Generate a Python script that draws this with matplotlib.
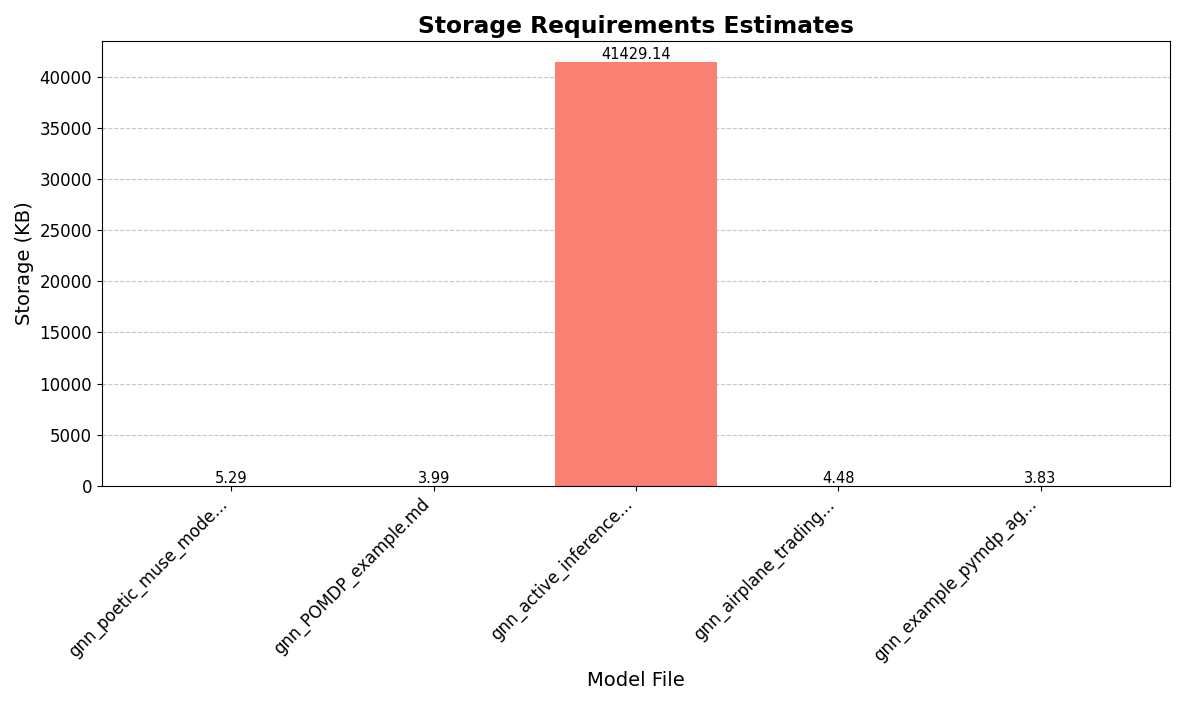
import matplotlib
matplotlib.use("Agg")
import matplotlib.pyplot as plt

files = ["gnn_poetic_muse_mode...", "gnn_POMDP_example.md", "gnn_active_inference...",
         "gnn_airplane_trading...", "gnn_example_pymdp_ag..."]
storage_kb = [5.29, 3.99, 41429.14, 4.48, 3.83]

fig, ax = plt.subplots(figsize=(11.85, 7.05), dpi=100)
bars = ax.bar(files, storage_kb, color="salmon")
for b, v in zip(bars, storage_kb):
    ax.text(b.get_x() + b.get_width() / 2, b.get_height(), f"{v:.2f}",
            ha="center", va="bottom", fontsize=10.5)
ax.set_title("Storage Requirements Estimates", fontsize=16.8, fontweight="bold")
ax.set_xlabel("Model File", fontsize=14)
ax.set_ylabel("Storage (KB)", fontsize=14)
ax.tick_params(axis="both", labelsize=12)
plt.setp(ax.get_xticklabels(), rotation=45, ha="right")
ax.yaxis.grid(True, linestyle="--", alpha=0.7)
ax.set_axisbelow(True)
fig.tight_layout()
fig.savefig("out.png", dpi=100)
